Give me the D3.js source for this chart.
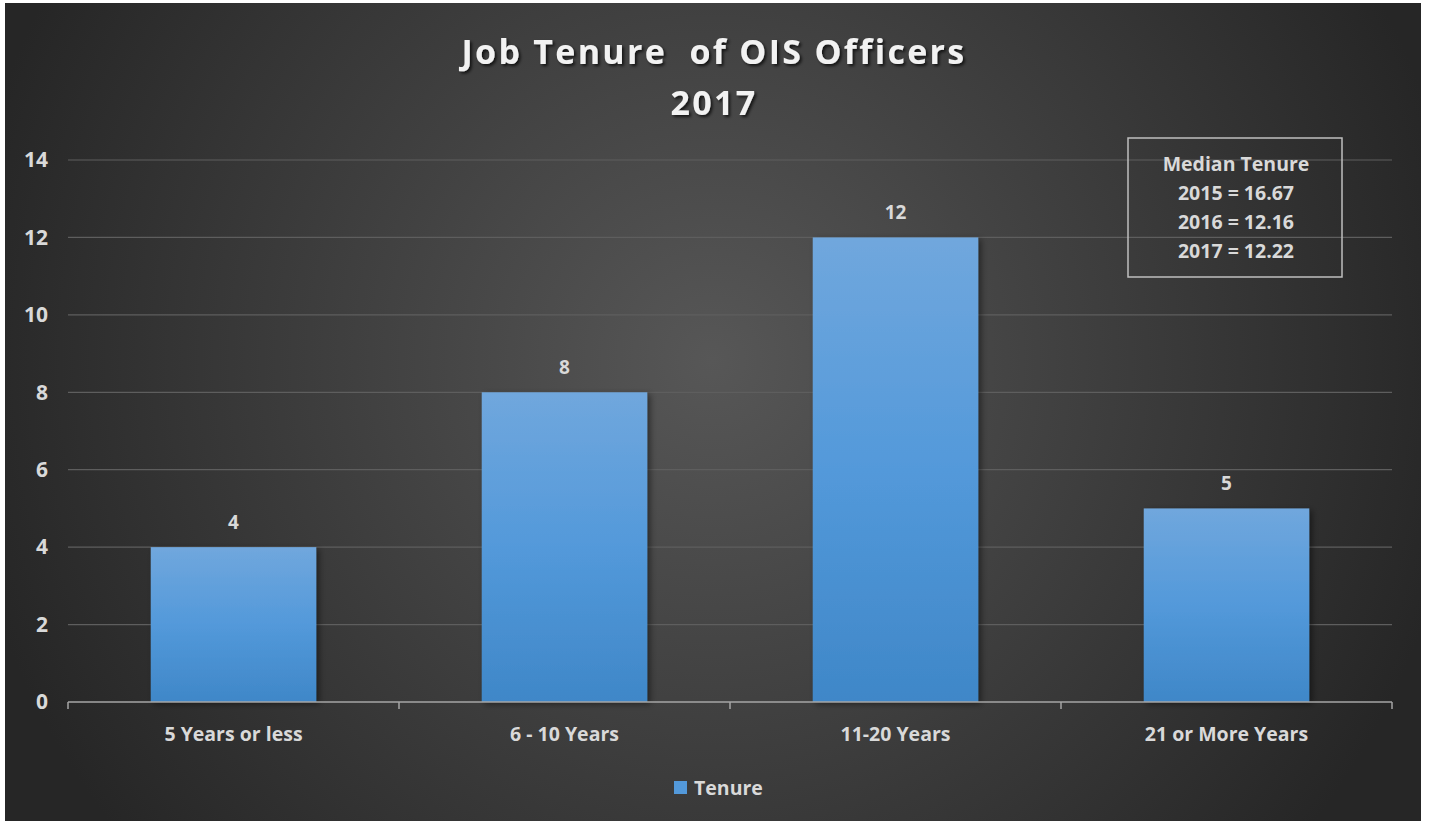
<!DOCTYPE html>
<html><head><meta charset="utf-8">
<script src="https://cdn.jsdelivr.net/npm/d3@7"></script>
<style>html,body{margin:0;padding:0;background:#fff;}svg{display:block;}</style>
</head><body>
<svg id="chart" width="1430" height="821"></svg>
<script>
const categories = ["5 Years or less", "6 - 10 Years", "11-20 Years", "21 or More Years"];
const tenureValues = [4, 8, 12, 5];
const yTicks = [0, 2, 4, 6, 8, 10, 12, 14];
const titleLines = ["Job Tenure  of OIS Officers", "2017"];
const seriesName = "Tenure";
const medianLines = ["Median Tenure", "2015 = 16.67", "2016 = 12.16", "2017 = 12.22"];

const svg = d3.select("#chart");
const font = "'Open Sans', 'Liberation Sans', sans-serif";
const textColor = "#d9d9d9";
const defs = svg.append("defs");

const bg = defs.append("radialGradient").attr("id", "bg")
  .attr("gradientUnits", "userSpaceOnUse")
  .attr("cx", 712).attr("cy", 360).attr("r", 760);
bg.append("stop").attr("offset", "0").attr("stop-color", "#575757");
bg.append("stop").attr("offset", "1").attr("stop-color", "#262626");

const barGrad = defs.append("linearGradient").attr("id", "barGrad")
  .attr("x1", 0).attr("y1", 0).attr("x2", 0).attr("y2", 1);
barGrad.append("stop").attr("offset", "0").attr("stop-color", "#70a7dd");
barGrad.append("stop").attr("offset", "0.5").attr("stop-color", "#5399da");
barGrad.append("stop").attr("offset", "1").attr("stop-color", "#3f87c8");

const shadow = defs.append("filter").attr("id", "shadow")
  .attr("x", "-10%").attr("y", "-10%").attr("width", "130%").attr("height", "120%");
shadow.append("feDropShadow").attr("dx", 3).attr("dy", 2).attr("stdDeviation", 3)
  .attr("flood-color", "#000").attr("flood-opacity", 0.45);

const tshadow = defs.append("filter").attr("id", "tshadow")
  .attr("x", "-5%").attr("y", "-20%").attr("width", "110%").attr("height", "150%");
tshadow.append("feDropShadow").attr("dx", 2).attr("dy", 2).attr("stdDeviation", 1.5)
  .attr("flood-color", "#000").attr("flood-opacity", 0.7);

svg.append("rect").attr("x", 5).attr("y", 3).attr("width", 1416).attr("height", 818)
  .attr("fill", "url(#bg)");

const margin = {left: 68, right: 1392, top: 160, bottom: 702};
const x = d3.scaleBand().domain(categories).range([margin.left, margin.right]).paddingInner(0.5).paddingOuter(0.25);
const y = d3.scaleLinear().domain([0, 14]).range([margin.bottom, margin.top]);

svg.append("g").selectAll("line").data(yTicks.filter(d => d > 0)).join("line")
  .attr("x1", margin.left).attr("x2", margin.right)
  .attr("y1", d => y(d)).attr("y2", d => y(d))
  .attr("stroke", "#5e5e5e").attr("stroke-width", 1.2);

const yAxis = d3.axisLeft(y).tickValues(yTicks).tickSize(0).tickPadding(0).tickFormat(d3.format("d"));
const yg = svg.append("g").attr("transform", `translate(48,0)`).call(yAxis);
yg.select(".domain").remove();
yg.attr("font-size", null).attr("font-family", null);
yg.selectAll("text").attr("fill", textColor)
  .style("font-family", font).style("font-size", "21px").style("font-weight", "bold");

svg.append("g").selectAll("rect").data(tenureValues).join("rect")
  .attr("x", (d, i) => x(categories[i]))
  .attr("y", d => y(d))
  .attr("width", x.bandwidth())
  .attr("height", d => y(0) - y(d))
  .attr("fill", "url(#barGrad)")
  .attr("filter", "url(#shadow)");

svg.append("g").selectAll("text").data(tenureValues).join("text")
  .attr("x", (d, i) => x(categories[i]) + x.bandwidth() / 2)
  .attr("y", d => y(d) - 18)
  .attr("text-anchor", "middle")
  .attr("fill", textColor).attr("font-family", font)
  .attr("font-size", 19).attr("font-weight", "bold")
  .text(d => d);

const xAxisG = svg.append("g").attr("transform", `translate(0,${margin.bottom})`);
xAxisG.append("line").attr("x1", margin.left).attr("x2", margin.right)
  .attr("stroke", "#a6a6a6").attr("stroke-width", 1.5);
const step = (margin.right - margin.left) / categories.length;
const tickXs = d3.range(categories.length + 1).map(i => margin.left + i * step);
xAxisG.selectAll("line.tick").data(tickXs).join("line").attr("class", "tick")
  .attr("x1", d => d).attr("x2", d => d).attr("y1", 0).attr("y2", 7)
  .attr("stroke", "#a6a6a6").attr("stroke-width", 1.5);
xAxisG.selectAll("text").data(categories).join("text")
  .attr("x", d => x(d) + x.bandwidth() / 2)
  .attr("y", 39)
  .attr("text-anchor", "middle")
  .attr("fill", textColor).attr("font-family", font)
  .attr("font-size", 19.5).attr("font-weight", "bold")
  .text(d => d);

svg.append("g").selectAll("text").data(titleLines).join("text")
  .attr("x", 714).attr("y", (d, i) => 64 + i * 51)
  .attr("text-anchor", "middle")
  .attr("fill", "#f2f2f2").attr("font-family", font)
  .attr("font-size", 34).attr("font-weight", "bold")
  .attr("letter-spacing", 2.3)
  .attr("xml:space", "preserve").style("white-space", "pre")
  .attr("filter", "url(#tshadow)")
  .text(d => d);

const lg = svg.append("g").attr("transform", "translate(674,781)");
lg.append("rect").attr("x", 0).attr("y", 0).attr("width", 13).attr("height", 13).attr("fill", "#5399da");
lg.append("text").attr("x", 20).attr("y", 14).attr("fill", textColor).attr("font-family", font)
  .attr("font-size", 19.5).attr("font-weight", "bold").text(seriesName);

const mb = svg.append("g");
mb.append("rect").attr("x", 1128).attr("y", 138).attr("width", 214).attr("height", 139)
  .attr("fill", "none").attr("stroke", "#bfbfbf").attr("stroke-width", 1.5);
mb.selectAll("text").data(medianLines).join("text")
  .attr("x", 1236).attr("y", (d, i) => 171 + i * 29)
  .attr("text-anchor", "middle")
  .attr("fill", textColor).attr("font-family", font)
  .attr("font-size", 19.5).attr("font-weight", "bold")
  .text(d => d);
</script>
</body></html>
